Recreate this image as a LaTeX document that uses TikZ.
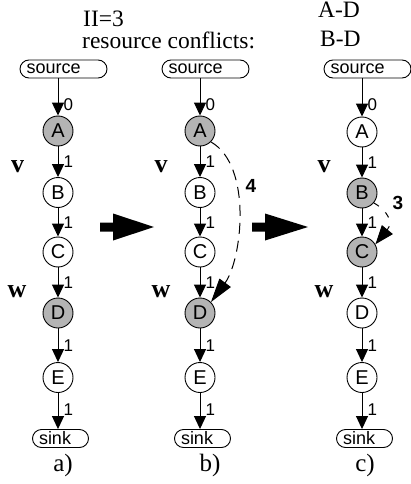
\documentclass[tikz,border=0pt]{standalone}
\usepackage{fontspec}
\setmainfont{Liberation Serif}
\setsansfont{Liberation Sans}
\usetikzlibrary{arrows.meta,calc}
\definecolor{nodegray}{RGB}{180,180,180}
\begin{document}
\begin{tikzpicture}[x=1pt,y=-1pt,
  op/.style={circle, draw, line width=0.9pt, minimum size=30pt, inner sep=0pt, font=\sffamily\fontsize{20}{20}\selectfont},
  opg/.style={op, fill=nodegray},
  term/.style={draw, line width=0.9pt, rounded corners=9pt, minimum height=18pt, inner xsep=6.5pt, inner ysep=0pt, align=left, font=\sffamily\fontsize{18}{18}\selectfont},
  srcbox/.style={term, text width=74pt},
  sinkbox/.style={term, text width=43pt},
  flow/.style={line width=1pt, -{Triangle[length=13pt,width=12pt]}},
  lab/.style={right, inner sep=0pt, xshift=5pt, font=\sffamily\fontsize{17}{17}\selectfont},
  varlab/.style={anchor=base, inner sep=0pt, font=\bfseries\fontsize{26}{26}\selectfont},
  toptext/.style={anchor=base west, inner sep=0pt, font=\fontsize{23.5}{23.5}\selectfont},
  caption/.style={anchor=base, inner sep=0pt, font=\fontsize{25}{25}\selectfont},
  conflab/.style={inner sep=0pt, font=\sffamily\bfseries\fontsize{19}{19}\selectfont},
  conf/.style={line width=1pt, dash pattern=on 11pt off 7pt}
]
\useasboundingbox (0,0) rectangle (411,484);

% top texts
\node[toptext] (ii) at (83,26.5) {II=3};
\node[toptext] (rc) at (82,49) {resource conflicts:};
\node[toptext] (ad) at (318,18) {A-D};
\node[toptext] (bd) at (320,46.5) {B-D};

% ---------- column a ----------
\node[srcbox] (asrc) at (63.5,69) {source};
\node[opg] (aA) at (58,131) {A};
\node[op]  (aB) at (58,192.5) {B};
\node[op]  (aC) at (58,252) {C};
\node[opg] (aD) at (58,313) {D};
\node[op]  (aE) at (58,377.5) {E};
\node[sinkbox] (asink) at (60.5,438.5) {sink};
\draw[flow] (asrc.south -| aA.north) -- node[lab,pos=0.7] {0} (aA.north);
\draw[flow] (aA) -- node[lab,pos=0.5] {1} (aB);
\draw[flow] (aB) -- node[lab,pos=0.5] {1} (aC);
\draw[flow] (aC) -- node[lab,pos=0.5] {1} (aD);
\draw[flow] (aD) -- node[lab,pos=0.5] {1} (aE);
\draw[flow] (aE.south) -- node[lab,pos=0.45] {1} (aE.south |- asink.north);
\node[varlab] (av) at (17.5,172) {v};
\node[varlab] (aw) at (17,297) {w};
\node[caption] (capa) at (63,471) {a)};

% ---------- column b ----------
\node[srcbox] (bsrc) at (205.5,69) {source};
\node[opg] (bA) at (200,131) {A};
\node[op]  (bB) at (200,192.5) {B};
\node[op]  (bC) at (200,252) {C};
\node[opg] (bD) at (200,313) {D};
\node[op]  (bE) at (200,377.5) {E};
\node[sinkbox] (bsink) at (202.5,438.5) {sink};
\draw[flow] (bsrc.south -| bA.north) -- node[lab,pos=0.7] {0} (bA.north);
\draw[flow] (bA) -- node[lab,pos=0.5] {1} (bB);
\draw[flow] (bB) -- node[lab,pos=0.5] {1} (bC);
\draw[flow] (bC) -- node[lab,pos=0.5] {1} (bD);
\draw[flow] (bD) -- node[lab,pos=0.5] {1} (bE);
\draw[flow] (bE.south) -- node[lab,pos=0.45] {1} (bE.south |- bsink.north);
\node[varlab] (bv) at (161,172) {v};
\node[varlab] (bw) at (161,297) {w};
\node[caption] (capb) at (210,471) {b)};
\draw[conf, -{Triangle[length=24pt,width=14pt]}] (bA.-45) .. controls +(42,24) and +(31,-42) .. (bD.45);
\node[conflab] (four) at (251,186) {4};

% ---------- column c ----------
\node[srcbox] (csrc) at (367.5,69) {source};
\node[op]  (cA) at (362,132) {A};
\node[opg] (cB) at (362,193) {B};
\node[opg] (cC) at (362,252) {C};
\node[op]  (cD) at (362,313) {D};
\node[op]  (cE) at (362,377.5) {E};
\node[sinkbox] (csink) at (364.5,438.5) {sink};
\draw[flow] (csrc.south -| cA.north) -- node[lab,pos=0.7] {0} (cA.north);
\draw[flow] (cA) -- node[lab,pos=0.5] {1} (cB);
\draw[flow] (cB) -- node[lab,pos=0.5] {1} (cC);
\draw[flow] (cC) -- node[lab,pos=0.5] {1} (cD);
\draw[flow] (cD) -- node[lab,pos=0.5] {1} (cE);
\draw[flow] (cE.south) -- node[lab,pos=0.45] {1} (cE.south |- csink.north);
\node[varlab] (cv) at (324,172) {v};
\node[varlab] (cw) at (324,297) {w};
\node[caption] (capc) at (365,471) {c)};
\draw[conf, dash pattern=on 6pt off 9pt, -{Triangle[length=19pt,width=14pt]}] (cB.-40) .. controls +(14,8) and +(18,-22) .. (cC.30);
\node[conflab] (three) at (398,203) {3};

% ---------- big transition arrows ----------
\fill (100,222.5) -- (113,222.5) -- (113,213.5) -- (154,227) -- (113,240.5) -- (113,231.5) -- (100,231.5) -- cycle;
\fill (252,222.5) -- (265,222.5) -- (265,213.5) -- (308,227) -- (265,240.5) -- (265,231.5) -- (252,231.5) -- cycle;
\end{tikzpicture}
\end{document}
